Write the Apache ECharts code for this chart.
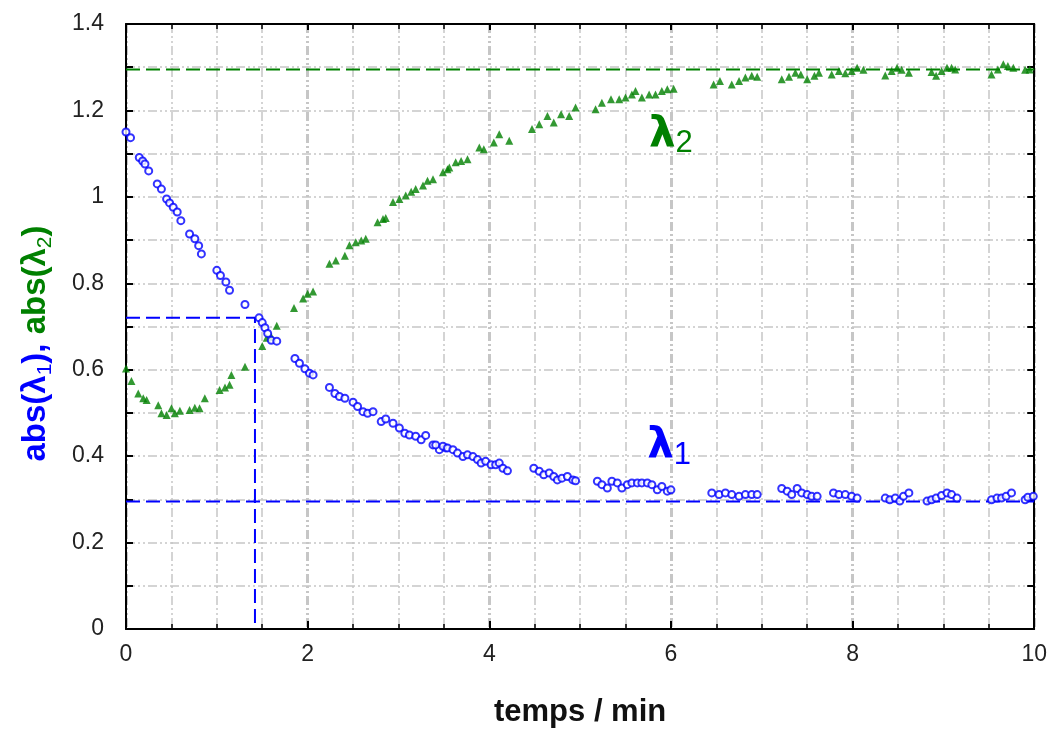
<!DOCTYPE html>
<html>
<head>
<meta charset="utf-8">
<script src="https://cdn.jsdelivr.net/npm/echarts@6/dist/echarts.min.js"></script>
<style>html,body{margin:0;padding:0;background:#fff}#c{width:1050px;height:733px}</style>
</head>
<body>
<div id="c"></div>
<script>
// lambda1 (blue circles)
const l1Time = [0,0.05,0.146,0.183,0.209,0.25,0.344,0.39,0.447,0.48,0.52,0.564,0.604,0.70,0.758,0.80,0.83,1.0,1.04,1.10,1.14,1.31,1.465,1.50,1.53,1.56,1.60,1.66,1.86,1.91,1.97,2.02,2.06,2.24,2.30,2.35,2.41,2.50,2.55,2.61,2.66,2.72,2.81,2.86,2.94,3.01,3.07,3.12,3.19,3.25,3.30,3.38,3.45,3.52,3.41,3.49,3.54,3.60,3.65,3.71,3.76,3.82,3.87,3.91,3.96,4.02,4.07,4.11,4.15,4.20,4.49,4.55,4.60,4.66,4.71,4.75,4.80,4.86,4.92,4.95,5.19,5.24,5.30,5.35,5.41,5.46,5.52,5.57,5.63,5.68,5.74,5.79,5.85,5.90,5.96,6.00,6.45,6.53,6.60,6.67,6.75,6.82,6.89,6.95,7.22,7.28,7.33,7.39,7.44,7.50,7.55,7.61,7.79,7.85,7.92,7.99,8.05,8.36,8.41,8.47,8.52,8.56,8.62,8.82,8.87,8.92,8.98,9.04,9.09,9.15,9.53,9.59,9.64,9.69,9.75,9.90,9.93,9.99];
const l1Abs = [1.150,1.137,1.091,1.083,1.076,1.060,1.030,1.018,0.995,0.986,0.976,0.965,0.945,0.914,0.903,0.887,0.868,0.830,0.818,0.803,0.784,0.751,0.720,0.709,0.697,0.684,0.668,0.666,0.626,0.615,0.602,0.592,0.588,0.559,0.545,0.538,0.534,0.525,0.515,0.503,0.499,0.503,0.480,0.486,0.476,0.465,0.453,0.449,0.446,0.438,0.448,0.426,0.415,0.419,0.426,0.423,0.419,0.415,0.407,0.399,0.403,0.399,0.392,0.384,0.388,0.380,0.380,0.384,0.372,0.366,0.372,0.365,0.357,0.361,0.353,0.345,0.349,0.353,0.345,0.343,0.342,0.334,0.326,0.342,0.338,0.326,0.334,0.338,0.338,0.338,0.338,0.334,0.322,0.330,0.319,0.322,0.315,0.311,0.315,0.311,0.307,0.311,0.311,0.311,0.325,0.319,0.311,0.325,0.315,0.311,0.307,0.307,0.315,0.311,0.311,0.307,0.303,0.303,0.299,0.303,0.296,0.307,0.315,0.296,0.299,0.303,0.309,0.315,0.311,0.303,0.299,0.303,0.303,0.307,0.315,0.299,0.305,0.307];
// lambda2 (green triangles)
const l2Time = [0.0,0.06,0.135,0.19,0.227,0.355,0.39,0.447,0.50,0.538,0.593,0.70,0.758,0.81,0.868,1.03,1.09,1.14,1.16,1.31,1.50,1.55,1.60,1.66,1.85,1.95,2.00,2.06,2.24,2.31,2.41,2.46,2.53,2.59,2.64,2.77,2.83,2.86,2.94,3.01,3.08,3.14,3.19,3.27,3.32,3.38,3.49,3.54,3.56,3.63,3.69,3.76,3.89,3.94,4.05,4.11,4.22,4.47,4.55,4.64,4.71,4.79,4.88,4.95,5.17,5.24,5.34,5.43,5.50,5.57,5.61,5.68,5.76,5.83,5.90,5.96,6.03,6.47,6.54,6.67,6.75,6.82,6.89,6.95,7.22,7.30,7.37,7.43,7.50,7.58,7.63,7.77,7.85,7.92,7.99,8.05,8.12,8.36,8.43,8.49,8.54,8.62,8.87,8.92,8.98,9.04,9.09,9.13,9.53,9.60,9.66,9.71,9.77,9.90,9.95];
const l2Abs = [0.603,0.574,0.545,0.534,0.530,0.518,0.499,0.495,0.511,0.499,0.505,0.507,0.512,0.511,0.534,0.553,0.559,0.565,0.588,0.607,0.655,0.674,0.676,0.702,0.743,0.765,0.776,0.781,0.845,0.853,0.864,0.888,0.895,0.899,0.903,0.941,0.949,0.951,0.988,0.995,1.003,1.012,1.018,1.026,1.037,1.041,1.057,1.064,1.068,1.080,1.083,1.087,1.114,1.110,1.126,1.145,1.130,1.157,1.168,1.187,1.172,1.191,1.187,1.207,1.203,1.218,1.226,1.226,1.230,1.237,1.245,1.230,1.237,1.237,1.245,1.249,1.250,1.260,1.268,1.260,1.268,1.276,1.280,1.278,1.272,1.278,1.287,1.283,1.272,1.280,1.287,1.283,1.291,1.286,1.291,1.299,1.294,1.281,1.291,1.299,1.294,1.287,1.289,1.280,1.291,1.299,1.299,1.295,1.283,1.295,1.307,1.303,1.299,1.294,1.295];
// reference lines
const l1Limit = 0.295;
const l2Limit = 1.295;
const crossPoint = [1.42, 0.72];
const xTicks = [0, 2, 4, 6, 8, 10];
const yTicks = [0, 0.2, 0.4, 0.6, 0.8, 1, 1.2, 1.4];

const BLUE = '#0000ff', GREEN = '#008000';
const gridStyle = {color: '#c6c6c6', width: 1.5, type: [9, 3, 2, 3, 2, 3]};
const pair = (xs, ys) => xs.map((x, i) => [x, ys[i]]);

const chart = echarts.init(document.getElementById('c'), null, {renderer: 'canvas'});
const labelFont = {fontFamily: 'Liberation Sans', fontSize: 23, color: '#222'};

chart.setOption({
  animation: false,
  grid: {left: 126, right: 14, top: 24, bottom: 101, containLabel: false},
  xAxis: [{
    type: 'value', min: 0, max: 10, interval: 2,
    name: 'temps / min', nameLocation: 'middle', nameGap: 68,
    nameTextStyle: {fontFamily: 'Liberation Sans', fontWeight: 'bold', fontSize: 31, color: '#111'},
    axisLine: {show: true, onZero: false, lineStyle: {color: '#000', width: 2}},
    axisTick: {show: true, inside: true, length: 8, lineStyle: {color: '#000', width: 2}},
    minorTick: {show: true, splitNumber: 4, length: 5, lineStyle: {color: '#000', width: 1.5}},
    axisLabel: Object.assign({margin: 14, formatter: v => xTicks.includes(v) ? String(v) : ''}, labelFont),
    splitLine: {show: true, lineStyle: {color: '#c6c6c6', width: 3, type: [9, 3, 2, 3, 2, 3]}},
    minorSplitLine: {show: true, lineStyle: gridStyle}
  }, {
    type: 'value', min: 0, max: 10, interval: 2, position: 'top',
    axisLine: {show: true, onZero: false, lineStyle: {color: '#000', width: 2}},
    axisTick: {show: true, inside: true, length: 6, lineStyle: {color: '#000', width: 2}},
    minorTick: {show: true, splitNumber: 4, length: 5, lineStyle: {color: '#000', width: 1.5}},
    axisLabel: {show: false}, splitLine: {show: false}
  }],
  yAxis: [{
    type: 'value', min: 0, max: 1.4, interval: 0.2,
    name: '{b|abs(λ}{bs|1}{b|), }{g|abs(λ}{gs|2}{g|)}',
    nameLocation: 'middle', nameGap: 70,
    nameTextStyle: {
      padding: [0, 34, 0, 0],
      rich: {
        b: {color: BLUE, fontFamily: 'Liberation Sans', fontWeight: 'bold', fontSize: 33, lineHeight: 40},
        bs: {color: BLUE, fontFamily: 'Liberation Sans', fontSize: 21, lineHeight: 40, verticalAlign: 'bottom'},
        g: {color: GREEN, fontFamily: 'Liberation Sans', fontWeight: 'bold', fontSize: 33, lineHeight: 40},
        gs: {color: GREEN, fontFamily: 'Liberation Sans', fontSize: 21, lineHeight: 40, verticalAlign: 'bottom'}
      }
    },
    axisLine: {show: true, onZero: false, lineStyle: {color: '#000', width: 2}},
    axisTick: {show: true, inside: true, length: 7, lineStyle: {color: '#000', width: 2}},
    minorTick: {show: true, splitNumber: 2, length: 7, lineStyle: {color: '#000', width: 2}},
    axisLabel: Object.assign({margin: 22, formatter: v => String(+v.toFixed(1))}, labelFont),
    splitLine: {show: true, lineStyle: gridStyle},
    minorSplitLine: {show: true, lineStyle: gridStyle}
  }, {
    type: 'value', min: 0, max: 1.4, interval: 0.2, position: 'right',
    axisLine: {show: true, onZero: false, lineStyle: {color: '#000', width: 2}},
    axisTick: {show: true, inside: true, length: 7, lineStyle: {color: '#000', width: 2}},
    minorTick: {show: true, splitNumber: 2, length: 7, lineStyle: {color: '#000', width: 2}},
    axisLabel: {show: false}, splitLine: {show: false}
  }],
  series: [
    {
      type: 'line', name: 'lim2', data: [[0, l2Limit], [10, l2Limit]], symbol: 'none', silent: true,
      lineStyle: {color: GREEN, width: 2, type: [14, 6]}, z: 3
    },
    {
      type: 'line', name: 'lim1', data: [[0, l1Limit], [10, l1Limit]], symbol: 'none', silent: true,
      lineStyle: {color: BLUE, width: 2, type: [14, 6]}, z: 3
    },
    {
      type: 'line', name: 'cross', data: [[0, crossPoint[1]], crossPoint, [crossPoint[0], 0]], symbol: 'none', silent: true,
      lineStyle: {color: BLUE, width: 2, type: [14, 6]}, z: 3
    },
    {
      type: 'scatter', name: 'lambda2', data: pair(l2Time, l2Abs), symbol: 'triangle', symbolSize: 8,
      itemStyle: {color: GREEN}, z: 4,
      markPoint: {
        symbol: 'rect', symbolSize: 1, itemStyle: {color: 'rgba(0,0,0,0)'},
        label: {show: true, position: 'inside', formatter: '{l|λ}{s|2}',
          rich: {l: {fontFamily: 'DejaVu Sans', fontSize: 42, color: GREEN, fontWeight: 'bold', lineHeight: 46},
                 s: {fontFamily: 'Liberation Sans', fontSize: 31, color: GREEN, lineHeight: 46, verticalAlign: 'bottom'}}},
        data: [{coord: [6.0, 1.14]}]
      }
    },
    {
      type: 'scatter', name: 'lambda1', data: pair(l1Time, l1Abs), symbol: 'emptyCircle', symbolSize: 7,
      itemStyle: {color: BLUE, borderColor: BLUE, borderWidth: 1.4}, z: 5,
      markPoint: {
        symbol: 'rect', symbolSize: 1, itemStyle: {color: 'rgba(0,0,0,0)'},
        label: {show: true, position: 'inside', formatter: '{l|λ}{s|1}',
          rich: {l: {fontFamily: 'DejaVu Sans', fontSize: 42, color: BLUE, fontWeight: 'bold', lineHeight: 46},
                 s: {fontFamily: 'Liberation Sans', fontSize: 31, color: BLUE, lineHeight: 46, verticalAlign: 'bottom'}}},
        data: [{coord: [5.98, 0.42]}]
      }
    }
  ]
});
</script>
</body>
</html>
